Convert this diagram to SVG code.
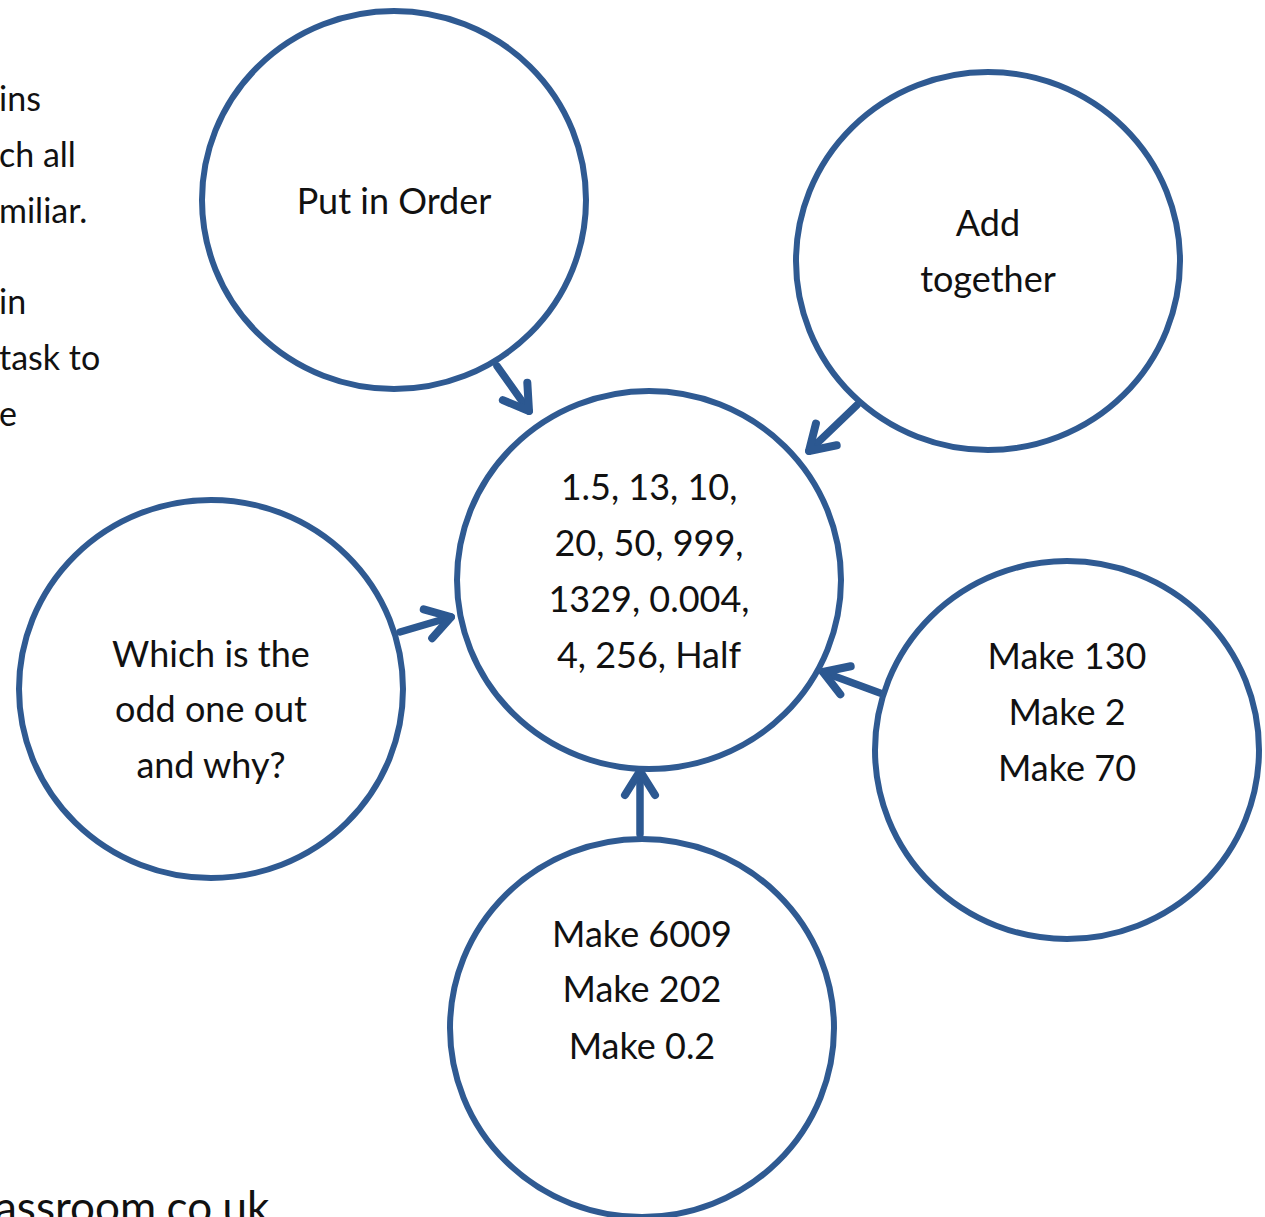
<svg xmlns="http://www.w3.org/2000/svg" width="1265" height="1217" viewBox="0 0 1265 1217">
<style>
.c{fill:none;stroke:#2f5a92;stroke-width:6}
.t{font-family:Lato,"Open Sans",sans-serif;font-size:36px;fill:#111;text-anchor:middle}
.s{font-family:Lato,"Open Sans",sans-serif;font-size:34px;fill:#111}
.a{fill:none;stroke:#2c5891;stroke-width:7.5;stroke-linecap:round;stroke-linejoin:round}
</style>
<defs>
<marker id="h" markerUnits="userSpaceOnUse" markerWidth="60" markerHeight="60" refX="30" refY="30" orient="auto" viewBox="0 0 60 60">
<path d="M6,15 L30,30 L6,45" fill="none" stroke="#2c5891" stroke-width="8" stroke-linecap="round" stroke-linejoin="round"/>
</marker>
</defs>
<rect width="1265" height="1217" fill="#fff"/>
<g id="side-text">
<text class="s" x="-1" y="111">ins</text>
<text class="s" x="-1" y="167">ch all</text>
<text class="s" x="-1" y="223">miliar.</text>
<text class="s" x="-1" y="314">in</text>
<text class="s" x="-1" y="370">task to</text>
<text class="s" x="-1" y="426">e</text>
<text class="s" x="-5" y="1223" style="font-size:44px">assroom.co.uk</text>
</g>
<g id="connectors">
<path class="a" d="M497,366 L529,411" marker-end="url(#h)"/>
<path class="a" d="M857,405 L809,451" marker-end="url(#h)"/>
<path class="a" d="M400,632 L451,617" marker-end="url(#h)"/>
<path class="a" d="M880,693 L823,672" marker-end="url(#h)"/>
<path class="a" d="M640,834 L640,771" marker-end="url(#h)"/>
</g>
<g id="order">
<ellipse class="c" cx="394" cy="200" rx="192" ry="189"/>
<text class="t" x="394" y="214">Put in Order</text>
</g>
<g id="add">
<ellipse class="c" cx="988" cy="261" rx="192" ry="189"/>
<text class="t" x="988" y="236">Add</text>
<text class="t" x="988" y="292">together</text>
</g>
<g id="center">
<ellipse class="c" cx="649" cy="580" rx="192" ry="189"/>
<text class="t" x="649" y="500">1.5, 13, 10,</text>
<text class="t" x="649" y="556">20, 50, 999,</text>
<text class="t" x="649" y="612">1329, 0.004,</text>
<text class="t" x="649" y="668">4, 256, Half</text>
</g>
<g id="odd">
<ellipse class="c" cx="211" cy="689" rx="192" ry="189"/>
<text class="t" x="211" y="667">Which is the</text>
<text class="t" x="211" y="722">odd one out</text>
<text class="t" x="211" y="778">and why?</text>
</g>
<g id="make130">
<ellipse class="c" cx="1067" cy="750" rx="192" ry="189"/>
<text class="t" x="1067" y="669">Make 130</text>
<text class="t" x="1067" y="725">Make 2</text>
<text class="t" x="1067" y="781">Make 70</text>
</g>
<g id="make6009">
<ellipse class="c" cx="642" cy="1028" rx="192" ry="189"/>
<text class="t" x="642" y="947">Make 6009</text>
<text class="t" x="642" y="1002">Make 202</text>
<text class="t" x="642" y="1059">Make 0.2</text>
</g>
</svg>
